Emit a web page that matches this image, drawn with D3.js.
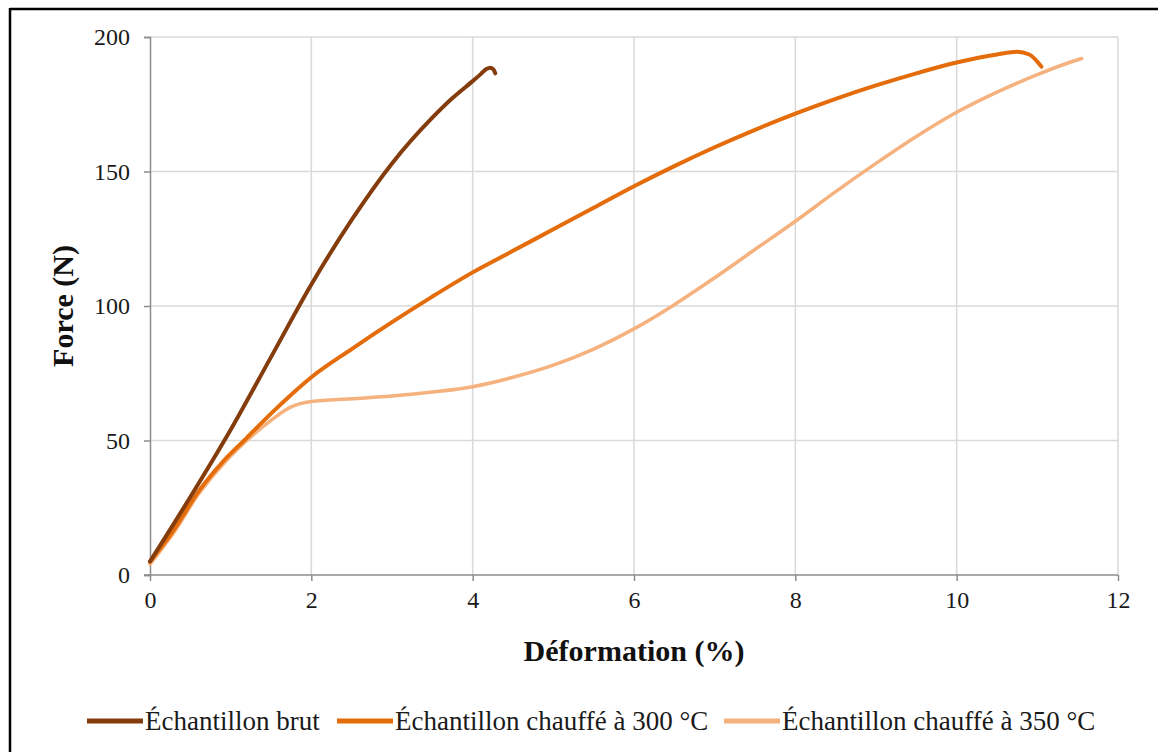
<!DOCTYPE html>
<html><head><meta charset="utf-8">
<script src="https://cdn.jsdelivr.net/npm/d3@7"></script>
<style>body{margin:0;background:#fff}svg{display:block}</style>
</head><body>
<script>
// Data
const xTicks = [0, 2, 4, 6, 8, 10, 12];
const yTicks = [0, 50, 100, 150, 200];
const seriesNames = ["Échantillon brut", "Échantillon chauffé à 300 °C", "Échantillon chauffé à 350 °C"];
const seriesColors = ["#843C0C", "#E46C0A", "#F5B27E"];

const brutStrain = [0, 0.5, 1, 1.5, 2, 2.5, 3, 3.5, 3.75, 4, 4.1, 4.17, 4.22, 4.26, 4.28];
const brutForce  = [5, 29, 54, 81, 108, 132, 153, 170, 177.3, 183.6, 186.2, 188.1, 188.6, 187.8, 186.5];

const c300Strain = [0, 0.3, 0.6, 0.9, 1.2, 1.5, 1.75, 2, 2.5, 3, 3.5, 4, 4.5, 5, 5.5, 6, 6.5, 7, 7.5, 8, 8.5, 9, 9.5, 10, 10.5, 10.75, 10.9, 11.05];
const c300Force  = [5, 17, 31, 42, 51, 60, 67, 73.5, 84, 94, 103.5, 112.5, 120.5, 128.5, 136.5, 144.5, 152, 159, 165.5, 171.5, 177, 182, 186.5, 190.5, 193.5, 194.5, 193.5, 189];

const c350Strain = [0, 0.3, 0.6, 0.9, 1.2, 1.5, 1.75, 2, 2.5, 3, 3.5, 4, 4.5, 5, 5.5, 6, 6.5, 7, 7.5, 8, 8.5, 9, 9.5, 10, 10.5, 11, 11.3, 11.55];
const c350Force  = [4, 16, 30, 41, 50, 57.5, 62.5, 64.5, 65.5, 66.5, 68, 70, 73.5, 78, 84, 91.5, 100.5, 110.5, 121, 131.5, 142.5, 153, 163, 172, 179.5, 186, 189.5, 192];

const W = 1158, H = 755;
const svg = d3.select("body").append("svg").attr("width", W).attr("height", H);
const font = "'Liberation Serif','Times New Roman',serif";

// outer frame (top and left edges visible)
svg.append("line").attr("x1", 10).attr("x2", W).attr("y1", 9).attr("y2", 9).attr("stroke", "#000").attr("stroke-width", 2.5);
svg.append("line").attr("x1", 10).attr("x2", 10).attr("y1", 8).attr("y2", 752).attr("stroke", "#000").attr("stroke-width", 2.5);

const x = d3.scaleLinear().domain([0, 12]).range([150, 1118]);
const y = d3.scaleLinear().domain([0, 200]).range([575, 37]);

// grid
const g = svg.append("g");
g.selectAll(".vg").data(xTicks.filter(d => d > 0)).enter().append("line")
  .attr("x1", d => x(d)).attr("x2", d => x(d)).attr("y1", y(0)).attr("y2", y(200))
  .attr("stroke", "#d9d9d9").attr("stroke-width", 1.5);
g.selectAll(".hg").data(yTicks.filter(d => d > 0)).enter().append("line")
  .attr("x1", x(0)).attr("x2", x(12)).attr("y1", d => y(d)).attr("y2", d => y(d))
  .attr("stroke", "#d9d9d9").attr("stroke-width", 1.5);

// axes
const xAxis = svg.append("g").attr("transform", `translate(0,${y(0)})`)
  .call(d3.axisBottom(x).tickValues(xTicks).tickSize(6).tickPadding(10).tickFormat(d3.format("d")));
const yAxis = svg.append("g").attr("transform", `translate(${x(0)},0)`)
  .call(d3.axisLeft(y).tickValues(yTicks).tickSize(6).tickPadding(14).tickFormat(d3.format("d")));
[xAxis, yAxis].forEach(a => {
  a.select(".domain").attr("stroke", "#8c8c8c").attr("stroke-width", 1.5);
  a.selectAll(".tick line").attr("stroke", "#8c8c8c").attr("stroke-width", 1.5);
  a.selectAll("text").attr("font-family", font).attr("font-size", 24).attr("fill", "#1a1a1a");
});
xAxis.select(".domain").attr("d", `M${x(0) - 6},0H${x(12)}`);

// axis titles
svg.append("text").attr("x", (x(0) + x(12)) / 2).attr("y", 661).attr("text-anchor", "middle")
  .attr("font-family", font).attr("font-weight", "bold").attr("font-size", 30).attr("fill", "#111")
  .text("Déformation (%)");
svg.append("text").attr("transform", `translate(73,${(y(0) + y(200)) / 2}) rotate(-90)`).attr("text-anchor", "middle")
  .attr("font-family", font).attr("font-weight", "bold").attr("font-size", 30).attr("fill", "#111")
  .text("Force (N)");

// lines (drawn lightest first so that brut sits on top)
const series = [
  {xs: brutStrain, ys: brutForce, w: 4},
  {xs: c300Strain, ys: c300Force, w: 4},
  {xs: c350Strain, ys: c350Force, w: 3.5}
];
const line = d3.line().x(d => x(d[0])).y(d => y(d[1])).curve(d3.curveMonotoneX);
[2, 1, 0].forEach(i => {
  const s = series[i];
  const pts = s.xs.map((v, k) => [v, s.ys[k]]);
  svg.append("path").datum(pts).attr("d", line).attr("fill", "none")
    .attr("stroke", seriesColors[i]).attr("stroke-width", s.w)
    .attr("stroke-linecap", "round").attr("stroke-linejoin", "round");
});

// legend
const legX = [87, 337, 724];
const leg = svg.append("g");
seriesNames.forEach((n, i) => {
  leg.append("line").attr("x1", legX[i]).attr("x2", legX[i] + 56).attr("y1", 721).attr("y2", 721)
    .attr("stroke", seriesColors[i]).attr("stroke-width", 5);
  leg.append("text").attr("x", legX[i] + 58).attr("y", 730)
    .attr("font-family", font).attr("font-size", 27).attr("fill", "#1a1a1a").text(n);
});
</script>
</body></html>
